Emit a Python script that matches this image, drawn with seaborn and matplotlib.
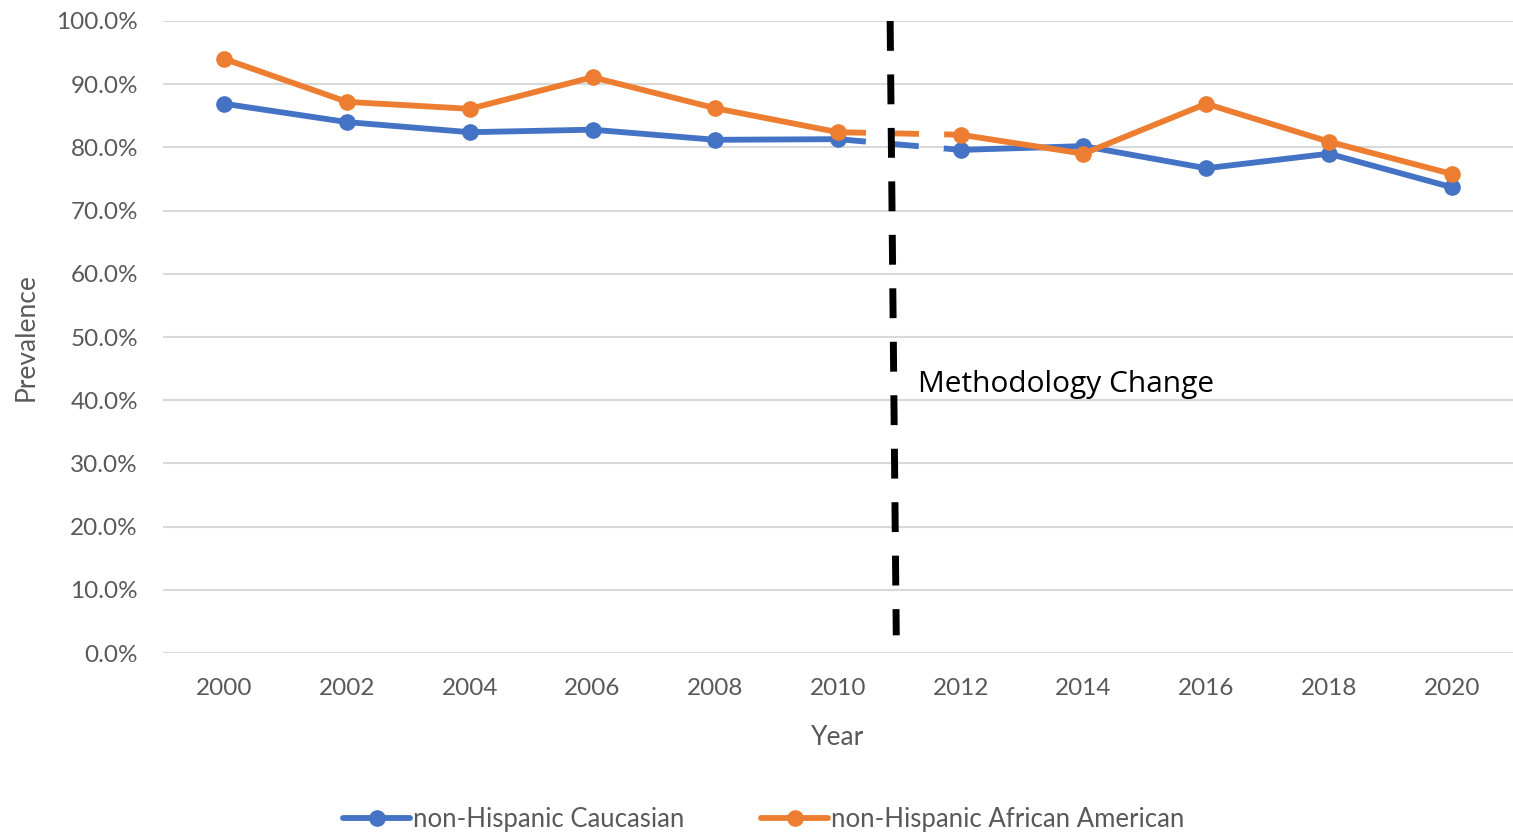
import matplotlib
matplotlib.use("Agg")
import matplotlib.pyplot as plt
from matplotlib.ticker import PercentFormatter
import pandas as pd
import seaborn as sns

years = [2000, 2002, 2004, 2006, 2008, 2010, 2012, 2014, 2016, 2018, 2020]
caucasian = [86.9, 84.0, 82.4, 82.8, 81.2, 81.3, 79.6, 80.2, 76.7, 79.0, 73.7]
african_american = [94.0, 87.2, 86.1, 91.1, 86.2, 82.4, 82.0, 79.0, 86.9, 80.9, 75.8]
series_names = ["non-Hispanic Caucasian", "non-Hispanic African American"]
colors = ["#4472C4", "#ED7D31"]

# methodology change happened between 2010 and 2012
change_after = 2010
change_x = [2010.85, 2010.95]
change_y = [100, 2.8]

df = pd.DataFrame({
    "Year": years * 2,
    "Prevalence": caucasian + african_american,
    "group": [series_names[0]] * len(years) + [series_names[1]] * len(years),
})

sns.set_style("white")
plt.rcParams["font.family"] = ["Lato", "DejaVu Sans"]

fig = plt.figure(figsize=(15.13, 8.32), dpi=100)
ax = fig.add_axes([0.1077, 0.2151, 0.8923, 0.7597])

grey = "#595959"
lw = 4.2
ms = 12

for name, col in zip(series_names, colors):
    sub = df[df["group"] == name]
    before = sub[sub["Year"] <= change_after]
    after = sub[sub["Year"] > change_after]
    gap = sub[(sub["Year"] >= change_after) & (sub["Year"] <= change_after + 2)]
    ax.plot(gap["Year"], gap["Prevalence"], color=col, lw=lw,
            dashes=(4.8, 4.3), solid_capstyle="butt", zorder=3)
    sns.lineplot(data=before, x="Year", y="Prevalence", color=col, lw=lw,
                 marker="o", markersize=ms, markeredgewidth=0, ax=ax,
                 zorder=4, label=name)
    sns.lineplot(data=after, x="Year", y="Prevalence", color=col, lw=lw,
                 marker="o", markersize=ms, markeredgewidth=0, ax=ax,
                 zorder=4)

ax.plot(change_x, change_y, color="black", lw=5, dashes=(4.3, 3.4),
        solid_capstyle="butt", zorder=5)
ax.text(2011.3, 42.5, "Methodology Change", fontsize=21.5, color="black",
        family=["Open Sans", "DejaVu Sans"], va="center", ha="left")

ax.set_xlim(1999, 2021)
ax.set_ylim(0, 100)
ax.set_xticks(years)
ax.set_yticks(range(0, 101, 10))
ax.yaxis.set_major_formatter(PercentFormatter(decimals=1))
ax.grid(axis="y", color="#D9D9D9", lw=1.5)
ax.set_axisbelow(True)
for s in ax.spines.values():
    s.set_visible(False)
ax.tick_params(axis="both", length=0, labelsize=17.5, labelcolor=grey)
ax.tick_params(axis="y", pad=18)
ax.tick_params(axis="x", pad=18)

ax.set_xlabel("Year", fontsize=19, color=grey, labelpad=19)
ax.set_ylabel("Prevalence", fontsize=19, color=grey, labelpad=13)

ax.legend(loc="center", bbox_to_anchor=(0.445, -0.264), ncol=2,
          frameon=False, fontsize=18.5, labelcolor=grey, handlelength=2.6,
          handletextpad=0.1, columnspacing=3.0)

fig.savefig("out.png", dpi=100)
